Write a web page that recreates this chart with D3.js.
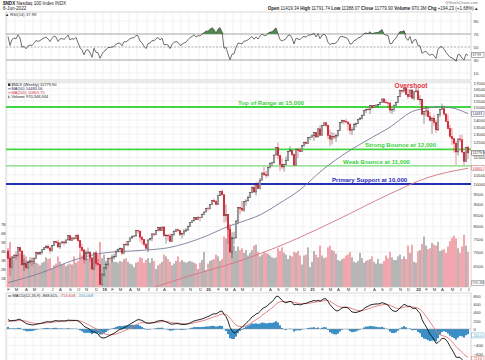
<!DOCTYPE html>
<html><head><meta charset="utf-8">
<script src="https://cdn.jsdelivr.net/npm/d3@7"></script>
<style>body{margin:0;background:#fff}svg{display:block;font-family:"Liberation Sans",Arial,sans-serif}</style>
</head><body><svg id="c" width="485" height="360"></svg>
<script>
// ---------- DATA (weekly $NDX, first bar = week ending 2-Feb-2018) ----------
const startDate = new Date(2018, 1, 2);
// closes from the weeks before the first visible bar (only used to warm up RSI / MACD)
const warmCloses = [5880,5680,5660,5760,5650,5660,5820,5900,5880,5900,5810,5760,5810,5980,5930,6000,5980,6000,6080,6100,6100,6250,6320,6330,6320,6380,6330,6340,6450,6440,6396,6650,6790,6830,7020];
const closes = [
 6761,6443,6780,6882,6848,7150,7022,6534,6582,6437,6608,6663,6651,6768,6965,6920,6970,7074,7149,7205,7140,7040,7236,7390,7355,7184,7330,7374,7338,7450,7624,7440,7530,7502,7627,7420,7170,7050,6720,6950,6990,6780,6390,6950,6590,6540,5900,6200,
 6430,6540,6770,6750,6810,6820,7030,7100,7120,6950,7270,7260,7380,7530,7600,7610,7830,7810,7560,7470,7280,7130,7450,7500,7690,7670,7840,7950,7830,7970,7630,7630,7610,7400,7660,7800,7860,7820,7660,7710,7810,7850,8010,8160,8240,8380,8290,8400,8390,8520,8630,8800,
 8790,8980,9170,9110,8990,9400,9620,9450,8460,8530,7880,6990,7500,7530,8230,8830,8790,8720,9120,9150,9320,9560,9820,9590,9950,9760,10210,10600,10500,10460,10900,11140,11180,11650,12110,11620,11090,10940,11090,11320,11880,11940,11670,11050,12020,11940,11860,12260,12460,12380,12760,12800,12890,
 13100,12810,13370,12930,13610,13800,13630,12910,12670,12830,12800,12900,13250,13840,13970,13890,13860,13720,13270,13300,13690,13770,14070,14140,14360,14720,14820,14780,15100,14960,15100,15150,15180,15370,15650,15370,15330,15310,14760,14800,15150,15340,15850,16340,16320,16570,16030,15830,16400,15720,16240,16320,
 15600,15610,14440,14630,14700,14250,13990,14140,13840,13300,14420,14820,14860,14460,13900,13380,12850,12690,12390,11840,12680,12620,11830,11260,12140,11779.9];
const highs = [
 7060,6830,6840,6890,7020,7160,7190,7070,6750,6670,6690,6800,6720,6790,6980,6990,7010,7090,7180,7250,7280,7190,7250,7400,7410,7460,7340,7410,7400,7460,7630,7630,7550,7570,7650,7700,7440,7300,7100,7060,7160,7000,6780,6990,7040,6740,6560,6250,
 6450,6590,6780,6780,6900,6930,7040,7110,7160,7150,7290,7400,7390,7540,7610,7630,7840,7850,7730,7600,7480,7330,7470,7530,7730,7720,7850,7970,7980,8000,8020,7680,7700,7710,7690,7840,7900,7920,7850,7740,7880,7930,8030,8170,8250,8390,8400,8430,8410,8560,8650,8820,
 8870,8990,9180,9260,9190,9450,9630,9720,9300,8980,8530,8100,7760,7780,8280,8850,8870,9150,9140,9230,9410,9560,9870,10050,10090,10120,10320,10620,10950,10710,10940,11200,11240,11660,12130,12440,11650,11440,11120,11560,11890,12210,11930,11740,12040,12060,12090,12270,12490,12510,12780,12830,12990,
 13110,13120,13440,13630,13620,13810,13880,13620,13300,13150,13100,13020,13280,13850,14040,13990,14070,13880,13660,13480,13780,13790,14080,14240,14410,14730,14870,14960,15110,15120,15120,15210,15230,15380,15660,15700,15560,15410,15400,14900,15160,15420,15860,16400,16420,16640,16760,16480,16410,16480,16290,16660,
 16580,15950,15660,14650,15070,15010,14620,14220,14400,14010,14440,14860,15270,15040,14510,14390,13640,13430,12670,12540,12690,12950,12960,11580,12160,12220];
const lows = [
 6750,6170,6420,6700,6720,6830,7000,6530,6330,6380,6400,6590,6480,6560,6760,6880,6880,6900,7070,7110,7120,6940,7000,7220,7320,7150,7110,7320,7230,7300,7440,7420,7430,7450,7480,7380,6970,7000,6580,6680,6900,6650,6380,6380,6480,6530,5890,5880,
 6150,6380,6490,6620,6630,6720,6790,6990,7040,6880,6970,7240,7200,7390,7500,7560,7590,7720,7380,7280,7210,7120,6980,7440,7400,7600,7650,7800,7820,7830,7560,7300,7420,7380,7460,7600,7770,7790,7600,7510,7620,7760,7830,7990,8150,8220,8270,8300,8200,8370,8520,8640,
 8690,8740,8970,9080,8930,8970,9400,9420,8160,8200,7290,6980,6770,7270,7600,8090,8530,8660,8630,8920,9150,9300,9520,9540,9410,9750,9720,10270,10440,10310,10390,10850,10970,11220,11660,11400,10700,10820,10680,11040,11400,11860,11580,11000,11110,11460,11830,11910,12150,12300,12430,12610,12790,
 12560,12750,12890,12870,12980,13560,13500,12650,12210,12320,12650,12490,12820,13270,13760,13670,13790,13250,12980,12950,13280,13470,13720,13990,14060,14350,14540,14740,14460,14850,14920,15000,14930,15160,15380,15360,15290,14930,14530,14450,14620,15100,15340,15830,16110,16190,16000,15640,15880,15610,15540,16250,
 15560,15170,14420,13730,14290,14210,13900,13020,13600,13080,13220,14220,14780,14320,13890,13360,12720,12300,11800,11070,11620,12460,11820,11040,11240,11390];
// weekly volume, billions of shares
const volumes = [
 4.3,5.0,3.4,3.0,3.6,3.4,3.8,3.9,3.6,3.4,2.9,3.0,3.3,2.9,2.7,2.6,2.4,2.7,2.8,3.3,3.1,3.2,2.1,2.4,2.6,3.4,2.8,2.5,2.6,2.3,2.5,2.6,2.5,3.4,2.7,2.9,3.8,3.5,4.2,3.9,3.2,3.5,2.6,3.8,3.9,3.6,5.0,3.2,
 3.6,2.9,3.0,2.7,3.2,2.8,2.8,2.7,2.9,2.8,3.1,3.2,2.8,2.6,2.5,2.2,2.7,2.8,3.3,3.2,2.7,3.0,3.2,2.7,3.2,2.9,2.0,2.4,2.6,2.8,3.6,3.4,3.1,2.8,2.4,2.6,2.9,3.4,2.8,3.0,2.8,2.7,2.8,2.9,2.8,2.7,2.6,2.0,2.7,3.0,3.9,1.9,
 2.6,2.9,3.0,3.1,3.6,3.4,2.9,3.1,5.6,5.4,6.5,6.7,5.6,4.6,4.0,4.5,4.1,4.3,3.8,4.1,3.5,3.8,4.1,4.6,4.7,3.9,3.4,3.6,3.9,3.8,3.7,3.5,3.3,3.2,3.3,4.3,4.0,4.4,3.8,3.6,3.1,3.5,3.4,3.9,3.8,4.0,3.5,2.5,3.5,3.6,4.4,2.2,2.8,
 4.0,3.6,3.3,4.6,3.5,3.2,3.3,4.4,4.6,4.1,4.0,3.7,3.0,2.9,3.1,3.2,3.5,3.6,3.9,3.3,2.8,2.7,2.9,3.8,3.2,2.7,2.9,3.0,3.1,3.4,2.8,2.6,3.1,2.6,2.6,2.9,3.5,3.2,3.9,3.3,3.0,3.0,3.4,3.6,3.1,3.4,3.1,4.6,3.8,4.7,2.8,2.7,
 4.0,4.1,4.8,5.6,4.6,4.2,4.3,4.9,4.7,4.6,5.0,4.0,4.1,4.2,3.8,4.5,5.1,5.5,5.7,5.4,4.3,3.8,4.5,5.8,4.6,3.9];
// moving averages (bar index -> value)
const ma50Weeks = [0,16,33,47,66,80,99,110,117,126,136,146,157,168,179,190,204,217,224,230];
const ma50Vals  = [5950,6250,6700,6950,7050,7150,7600,8000,8200,8500,9050,9700,10750,11700,12550,13400,14750,15000,14850,14483];
const ma200Weeks = [50,70,90,115,140,165,190,210,230];
const ma200Vals  = [5350,5750,6150,6650,7350,8300,9450,10350,10864];
// reference levels
const levelValues = [15000,12000,11000,10000];
const levelLabels = ["Top of Range at 15,000","Strong Bounce at 12,000","Weak Bounce at 11,000","Primary Support at 10,000"];
const overshootLabel = "Overshoot";
// axis ticks
const priceTicks = [6500,7000,7500,8000,8500,9000,9500,10000,10500,11000,11500,12000,12500,13000,13500,14000,14500,15000,15500,16000,16500,17000];
const rsiTicks = [10,30,50,70,90];
const macdTicks = [-600,-400,-200,0,200,400,600,800];
const volTicks = [1,2,3,4,5,6,7];
const monthLetters = ["J","F","M","A","M","J","J","A","S","O","N","D"];

// ---------- LAYOUT ----------
const L = 6, R = 471;
const rsiTop = 12, rsiBot = 80, pTop = 82, pBot = 287, mTop = 293, mBot = 372;
const svg = d3.select("#c");
const xs = d3.scaleLinear().domain([-1, 231.5]).range([L, R]);
const yR = d3.scaleLinear().domain([0, 100]).range([79.5, 14.5]);
const yP = d3.scaleLog().domain([5816, 17109]).range([pBot, pTop]);
const yV = d3.scaleLinear().domain([0, 10]).range([pBot, 197]);
const yM = d3.scaleLinear().domain([-1036, 867]).range([mBot, mTop]);

const n = closes.length;
const dates = closes.map((_, i) => d3.timeDay.offset(startDate, 7 * i));
const all = warmCloses.concat(closes);
const off = warmCloses.length;
const opens = closes.map((c, i) => all[off + i - 1]);

// indicators
function rsiCalc(arr, p) {
  const out = []; let ag = 0, al = 0;
  for (let i = 1; i < arr.length; i++) {
    const ch = arr[i] - arr[i - 1], g = Math.max(ch, 0), l = Math.max(-ch, 0);
    if (i <= p) { ag += g / p; al += l / p; out[i] = i === p ? 100 - 100 / (1 + ag / al) : null; }
    else { ag = (ag * (p - 1) + g) / p; al = (al * (p - 1) + l) / p; out[i] = 100 - 100 / (1 + ag / al); }
  }
  return out;
}
function ema(arr, p) { const k = 2 / (p + 1); const o = []; arr.forEach((v, i) => o[i] = i === 0 ? v : v * k + o[i - 1] * (1 - k)); return o; }
const rsiAll = rsiCalc(all, 14);
const e12 = ema(all, 12), e26 = ema(all, 26);
const macdAll = all.map((v, i) => e12[i] - e26[i]);
const sigAll = ema(macdAll, 9);
const rsi = closes.map((_, i) => rsiAll[off + i]);
const macd = closes.map((_, i) => macdAll[off + i]);
const sig = closes.map((_, i) => sigAll[off + i]);
const hist = closes.map((_, i) => macd[i] - sig[i]);

// month starts
const monthIdx = [];
dates.forEach((d, i) => { if (i === 0 || d.getMonth() !== dates[i - 1].getMonth()) monthIdx.push(i); });

// value boxes on the right axis (text, y, colour)
const boxes = [
  ["37.99", yR(37.99), "#333"],
  ["14483", yP(14483), "#333366"],
  ["11779.9", yP(11779.9), "#111"],
  ["10863", yP(10863.75), "#cc3344"],
  ["970.3M", yV(0) - 4, "#555"],
  ["-155.0", yM(-155), "#3b8fc4"],
  ["-713.6", yM(-713.6), "#d04040"]
];
const freeOfBoxes = (y) => boxes.every(b => Math.abs(b[1] - y) >= 4);

// clip paths
const defs = svg.append("defs");
[["cR", rsiTop, rsiBot], ["cP", pTop, pBot], ["cM", mTop, mBot]].forEach(([id, t, b]) => {
  defs.append("clipPath").attr("id", id).append("rect").attr("x", L).attr("y", t).attr("width", R - L).attr("height", b - t);
});

// panel frames + vertical grid
function panel(t, b) {
  svg.append("rect").attr("x", L).attr("y", t).attr("width", R - L).attr("height", b - t).attr("fill", "#fff").attr("stroke", "#b8b8b8").attr("stroke-width", 0.6);
  svg.append("g").selectAll("line").data(monthIdx).join("line")
    .attr("x1", i => xs(i) - 1).attr("x2", i => xs(i) - 1).attr("y1", t).attr("y2", b)
    .attr("stroke", "#e6e6e6").attr("stroke-width", 0.5);
}
panel(rsiTop, rsiBot); panel(pTop, pBot); panel(mTop, mBot);

// horizontal grids
function hgrid(vals, y) {
  svg.append("g").selectAll("line").data(vals).join("line")
    .attr("x1", L).attr("x2", R).attr("y1", d => y(d)).attr("y2", d => y(d))
    .attr("stroke", "#e6e6e6").attr("stroke-width", 0.5);
}
hgrid(rsiTicks, yR); hgrid(priceTicks, yP); hgrid(macdTicks, yM);

// right axes
function rAxis(vals, y, fmt) {
  const g = svg.append("g").attr("transform", `translate(${R + 1},0)`)
    .call(d3.axisRight(y).tickValues(vals.filter(v => freeOfBoxes(y(v)))).tickSize(0).tickPadding(1.5).tickFormat(fmt));
  g.select(".domain").remove();
  g.selectAll("text").attr("font-size", 4.3).attr("fill", "#333").attr("font-family", "Liberation Sans, Arial");
}
rAxis(rsiTicks, yR, d3.format("d"));
rAxis(priceTicks, yP, d3.format("d"));
rAxis(macdTicks, yM, d3.format("d"));

// ---------- RSI ----------
const gR = svg.append("g").attr("clip-path", "url(#cR)");
[70, 30].forEach(v => gR.append("line").attr("x1", L).attr("x2", R).attr("y1", yR(v)).attr("y2", yR(v)).attr("stroke", "#8a8a8a").attr("stroke-width", 0.7));
gR.append("line").attr("x1", L).attr("x2", R).attr("y1", yR(50)).attr("y2", yR(50)).attr("stroke", "#8a8a8a").attr("stroke-width", 0.6).attr("stroke-dasharray", "2,1.5");
const idx = d3.range(n);
gR.append("path").datum(idx).attr("fill", "#4e8a4e").attr("d", d3.area().x(i => xs(i)).y0(yR(70)).y1(i => yR(Math.max(rsi[i], 70))));
gR.append("path").datum(idx).attr("fill", "#c86060").attr("d", d3.area().x(i => xs(i)).y0(yR(30)).y1(i => yR(Math.min(rsi[i], 30))));
gR.append("path").datum(idx).attr("fill", "none").attr("stroke", "#4a4a4a").attr("stroke-width", 0.8)
  .attr("d", d3.line().x(i => xs(i)).y(i => yR(rsi[i])));

// ---------- PRICE PANEL ----------
const gP = svg.append("g").attr("clip-path", "url(#cP)");
// volume
gP.append("g").selectAll("rect").data(idx).join("rect")
  .attr("x", i => xs(i) - 1).attr("width", 2)
  .attr("y", i => yV(volumes[i])).attr("height", i => yV(0) - yV(volumes[i]))
  .attr("fill", i => closes[i] >= opens[i] ? "#b6b6b6" : "#f2a7ae");
// level lines
const levelColors = ["#3fd63f", "#3fd63f", "#5bd65b", "#2430b8"];
const levelWidths = [2, 1.6, 1, 2];
levelValues.forEach((v, k) => gP.append("line").attr("x1", L).attr("x2", R).attr("y1", yP(v)).attr("y2", yP(v))
  .attr("stroke", levelColors[k]).attr("stroke-width", levelWidths[k]));
// moving averages
gP.append("path").datum(ma200Weeks.map((w, k) => [w, ma200Vals[k]])).attr("fill", "none").attr("stroke", "#d47580").attr("stroke-width", 0.9)
  .attr("d", d3.line().x(d => xs(d[0])).y(d => yP(d[1])).curve(d3.curveMonotoneX));
gP.append("path").datum(ma50Weeks.map((w, k) => [w, ma50Vals[k]])).attr("fill", "none").attr("stroke", "#7a7c9a").attr("stroke-width", 0.9)
  .attr("d", d3.line().x(d => xs(d[0])).y(d => yP(d[1])).curve(d3.curveMonotoneX));
// candles
const gc = gP.append("g");
idx.forEach(i => {
  const o = opens[i], c = closes[i];
  const up = c >= o;
  const col = up ? "#2a2a2a" : "#cf1f2e";
  const hi = Math.max(highs[i], o, c), lo = Math.min(lows[i], o, c);
  gc.append("line").attr("x1", xs(i)).attr("x2", xs(i)).attr("y1", yP(hi)).attr("y2", yP(lo)).attr("stroke", col).attr("stroke-width", 0.5);
  const yt = yP(Math.max(o, c)), yb = yP(Math.min(o, c));
  gc.append("rect").attr("x", xs(i) - 0.8).attr("width", 1.6).attr("y", yt).attr("height", Math.max(yb - yt, 0.4))
    .attr("fill", up ? "#f4f4f4" : "#cf1f2e").attr("stroke", col).attr("stroke-width", 0.45);
});
// level labels
const labelX = [238, 365, 343, 332];
const labelFill = ["#3ccf3c", "#3ccf3c", "#3ccf3c", "#2a2ab8"];
levelValues.forEach((v, k) => svg.append("text").attr("x", labelX[k]).attr("y", yP(v) - 2.2)
  .attr("font-size", 6.1).attr("font-weight", "bold").attr("fill", labelFill[k]).text(levelLabels[k]));
svg.append("text").attr("x", 411).attr("y", 88).attr("text-anchor", "middle").attr("font-size", 6.6)
  .attr("font-weight", "bold").attr("fill", "#e2303c").text(overshootLabel);

// volume axis (left)
const gv = svg.append("g").attr("transform", `translate(${L + 1},0)`)
  .call(d3.axisLeft(yV).tickValues(volTicks).tickSize(0).tickPadding(0.5).tickFormat(d => d + "B"));
gv.select(".domain").remove();
gv.selectAll("text").attr("font-size", 3.8).attr("fill", "#444").attr("text-anchor", "start").attr("x", -6);

// price legend
const leg = svg.append("g").attr("font-size", 4).attr("fill", "#222");
leg.append("rect").attr("x", 8).attr("y", 83.4).attr("width", 2.4).attr("height", 2.6).attr("fill", "#333");
leg.append("text").attr("x", 11.5).attr("y", 86.2).text("$NDX (Weekly) 11779.90");
leg.append("line").attr("x1", 8).attr("x2", 11).attr("y1", 88.8).attr("y2", 88.8).attr("stroke", "#333366").attr("stroke-width", 0.6);
leg.append("text").attr("x", 11.5).attr("y", 90.2).attr("fill", "#333366").text("MA(50) 14483.06");
leg.append("line").attr("x1", 8).attr("x2", 11).attr("y1", 92.8).attr("y2", 92.8).attr("stroke", "#cc3344").attr("stroke-width", 0.6);
leg.append("text").attr("x", 11.5).attr("y", 94.2).attr("fill", "#cc3344").text("MA(200) 10863.75");
leg.append("rect").attr("x", 8.3).attr("y", 95.6).attr("width", 0.7).attr("height", 2.6).attr("fill", "#555");
leg.append("rect").attr("x", 9.5).attr("y", 96.6).attr("width", 0.7).attr("height", 1.6).attr("fill", "#555");
leg.append("text").attr("x", 11.5).attr("y", 98.2).text("Volume 970,346,944");

// ---------- MACD ----------
const gM = svg.append("g").attr("clip-path", "url(#cM)");
gM.append("g").selectAll("rect").data(idx).join("rect")
  .attr("x", i => xs(i) - 1).attr("width", 2)
  .attr("y", i => Math.min(yM(0), yM(hist[i]))).attr("height", i => Math.abs(yM(hist[i]) - yM(0)))
  .attr("fill", "#3b8fc4");
gM.append("line").attr("x1", L).attr("x2", R).attr("y1", yM(0)).attr("y2", yM(0)).attr("stroke", "#9a9a9a").attr("stroke-width", 0.4);
gM.append("path").datum(idx).attr("fill", "none").attr("stroke", "#e07a7a").attr("stroke-width", 0.9)
  .attr("d", d3.line().x(i => xs(i)).y(i => yM(sig[i])));
gM.append("path").datum(idx).attr("fill", "none").attr("stroke", "#111").attr("stroke-width", 0.9)
  .attr("d", d3.line().x(i => xs(i)).y(i => yM(macd[i])));
const ml = svg.append("g").attr("font-size", 4);
ml.append("line").attr("x1", 8).attr("x2", 11.5).attr("y1", 296).attr("y2", 296).attr("stroke", "#111").attr("stroke-width", 0.7);
const mt = ml.append("text").attr("x", 12.5).attr("y", 297.4);
mt.append("tspan").attr("fill", "#222").text("MACD(12,26,9) -868.615, ");
mt.append("tspan").attr("fill", "#d04040").text("-713.608, ");
mt.append("tspan").attr("fill", "#3b8fc4").text("-155.008");

// ---------- month / year labels ----------
const gx = svg.append("g").attr("transform", `translate(0,${pBot})`)
  .call(d3.axisBottom(xs).tickValues(monthIdx).tickSize(0).tickPadding(1.2)
    .tickFormat(i => dates[i].getMonth() === 0 ? d3.timeFormat("%y")(dates[i]) : monthLetters[dates[i].getMonth()]));
gx.select(".domain").remove();
gx.selectAll("text").attr("font-size", 4.2).attr("fill", "#333")
  .attr("font-weight", i => dates[i].getMonth() === 0 ? "bold" : "normal");

// ---------- value boxes ----------
boxes.forEach(([txt, y, col]) => {
  svg.append("rect").attr("x", R + 0.8).attr("y", y - 2.5).attr("width", 484 - R - 0.8).attr("height", 5).attr("fill", "#fff").attr("stroke", col).attr("stroke-width", 0.4);
  svg.append("text").attr("x", R + 1.6).attr("y", y + 1.3).attr("font-size", 3.4).attr("fill", col).text(txt);
});

// ---------- header ----------
const hd = svg.append("g").attr("font-size", 4.6).attr("fill", "#222");
const h1 = hd.append("text").attr("x", 3).attr("y", 5);
h1.append("tspan").attr("font-weight", "bold").text("$NDX ");
h1.append("tspan").text("Nasdaq 100 Index  INDX");
hd.append("text").attr("x", 3).attr("y", 10).text("6-Jun-2022");
hd.append("text").attr("x", 5).attr("y", 16.2).attr("font-size", 4.2).attr("fill", "#333").text("▲ RSI(14) 37.99");
hd.append("text").attr("x", 478).attr("y", 4).attr("text-anchor", "end").attr("font-size", 3.8).attr("fill", "#777").text("@StockCharts.com");
const h2 = hd.append("text").attr("x", 478).attr("y", 10).attr("text-anchor", "end").attr("font-size", 4.5);
const hdrPairs = [["Open", "11419.34"], ["High", "11791.74"], ["Low", "11388.07"], ["Close", "11779.90"], ["Volume", "970.3M"], ["Chg", "+194.23 (+1.68%) ▴"]];
hdrPairs.forEach(([k, v], j) => {
  h2.append("tspan").attr("font-weight", "bold").text(k + " ");
  h2.append("tspan").text(j < hdrPairs.length - 1 ? v + "  " : v);
});
</script></body></html>
